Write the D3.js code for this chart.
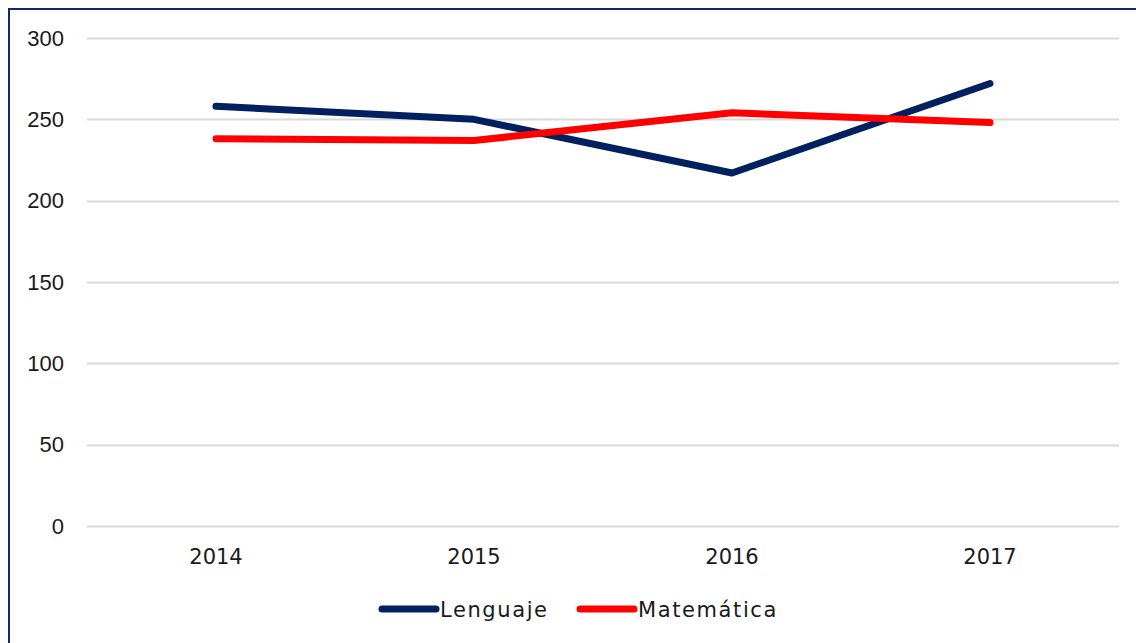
<!DOCTYPE html>
<html>
<head>
<meta charset="utf-8">
<script src="https://cdn.jsdelivr.net/npm/d3@7"></script>
<style>
  body { margin: 0; background: #fff; }
  svg { display: block; }
</style>
</head>
<body>
<script>
// chart data
const years = ["2014", "2015", "2016", "2017"]
const lenguaje = [258, 250, 217, 272]
const matematica = [238, 237, 254, 248]
const yTicks = [0, 50, 100, 150, 200, 250, 300]

const width = 1136, height = 643
const margin = {left: 87, right: 17, top: 38, bottom: 117}
const gothic = "'Century Gothic', 'URW Gothic', 'DejaVu Sans', sans-serif"

const svg = d3.select("body").append("svg")
    .attr("width", width)
    .attr("height", height)

// frame (only left and top edges visible)
svg.append("path")
    .attr("d", "M9,643 L9,9 L1136,9")
    .attr("fill", "none")
    .attr("stroke", "#0d2a6e")
    .attr("stroke-width", 2)

const x = d3.scalePoint()
    .domain(years)
    .range([margin.left, width - margin.right])
    .padding(0.5)

const y = d3.scaleLinear()
    .domain([0, 300])
    .range([height - margin.bottom, margin.top])

// gridlines
svg.append("g")
    .selectAll("line")
    .data(yTicks)
    .join("line")
    .attr("x1", margin.left)
    .attr("x2", width - margin.right)
    .attr("y1", d => Math.round(y(d)) + 0.5)
    .attr("y2", d => Math.round(y(d)) + 0.5)
    .attr("stroke", "#d9d9d9")
    .attr("stroke-width", 2)

// y labels
svg.append("g")
    .selectAll("text")
    .data(yTicks)
    .join("text")
    .attr("x", 64)
    .attr("y", d => y(d))
    .attr("dy", "0.35em")
    .attr("text-anchor", "end")
    .style("font-family", "'Liberation Sans', Arial, sans-serif")
    .style("font-size", "22px")
    .attr("fill", "#1a1a1a")
    .text(d => d)

// x labels
svg.append("g")
    .selectAll("text")
    .data(years)
    .join("text")
    .attr("x", d => x(d))
    .attr("y", 564)
    .attr("text-anchor", "middle")
    .style("font-family", gothic)
    .style("font-size", "21px")
    .attr("fill", "#1a1a1a")
    .text(d => d)

const series = [
    {name: "Lenguaje", values: lenguaje, color: "#002060"},
    {name: "Matemática", values: matematica, color: "#ff0000"}
]

const line = d3.line()
    .x((d, i) => x(years[i]))
    .y(d => y(d))
    .curve(d3.curveLinear)

series.forEach(s => {
    svg.append("path")
        .attr("d", line(s.values))
        .attr("fill", "none")
        .attr("stroke", s.color)
        .attr("stroke-width", 7)
        .style("stroke-linecap", "round")
        .style("stroke-linejoin", "round")
})

// legend
const legendX = [382, 580]
series.forEach((s, i) => {
    const g = svg.append("g").attr("transform", `translate(${legendX[i]},609)`)
    g.append("line")
        .attr("x1", 0).attr("x2", 54)
        .attr("stroke", s.color)
        .attr("stroke-width", 7)
        .style("stroke-linecap", "round")
    g.append("text")
        .attr("x", 58)
        .attr("dy", "0.36em")
        .style("font-family", gothic)
        .style("font-size", "21px")
        .style("letter-spacing", "1.6px")
        .attr("fill", "#1a1a1a")
        .text(s.name)
})
</script>
</body>
</html>
